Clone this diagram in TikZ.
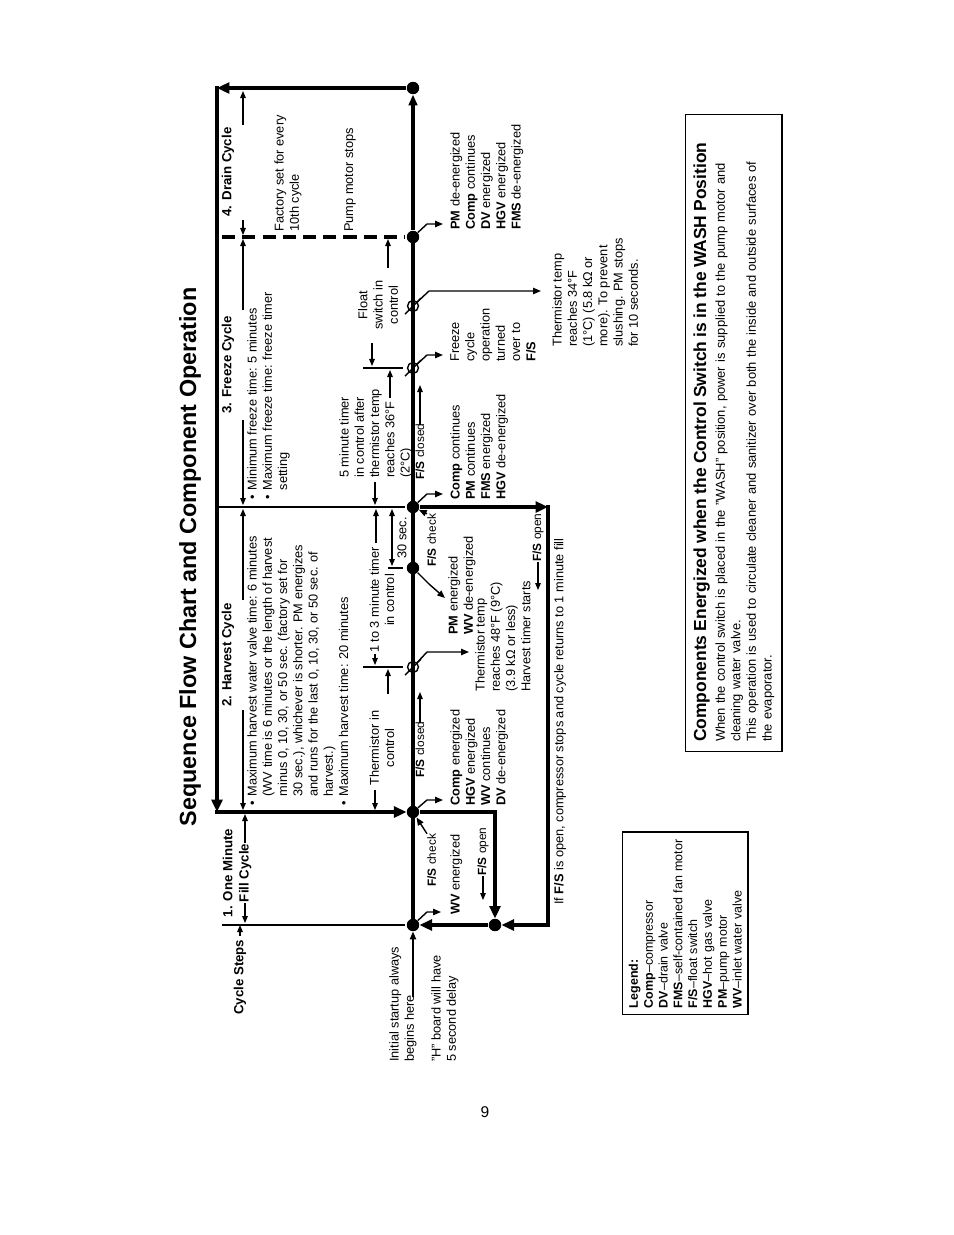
\documentclass[tikz,border=0pt]{standalone}
\usepackage{fontspec}
\setmainfont{Liberation Sans}
\usetikzlibrary{arrows.meta,calc}
\newcommand\bodyfont{\fontsize{8.2}{9.8}\selectfont}
\newcommand\smallfont{\fontsize{7.6}{9.8}\selectfont}
\newcommand\headfont{\fontsize{8.5}{10.4}\selectfont\bfseries}
\newcommand\ttlfont{\fontsize{15}{18}\selectfont\bfseries}
\newcommand\bul{\makebox[6pt][l]{\textbullet}}
\newcommand\indt{\hspace*{6pt}}
\tikzset{
  >={Triangle[length=4.5pt,width=3.6pt]},
  every node/.style={font=\bodyfont, inner sep=0pt},
  % --- texts
  blk/.style  = {rotate=90, align=left, anchor=north west},
  cblk/.style = {rotate=90, align=center},
  hdr/.style  = {rotate=90, font=\headfont, align=center},
  fsl/.style  = {rotate=90, anchor=west, font=\smallfont},
  % --- lines
  spine/.style = {line width=2pt},
  loopl/.style = {line width=2.8pt},
  loopa/.style = {loopl, -{Triangle[length=8pt,width=7pt]}},
  bound/.style = {line width=0.7pt},
  dim/.style   = {line width=0.7pt, ->},
  lbl/.style   = {line width=0.9pt, -{Triangle[length=5pt,width=4pt]}},
  dot/.style   = {circle, fill=black, minimum size=8pt},
  fsw/.style   = {circle, draw, line width=0.9pt, minimum size=7pt},
}
\begin{document}
\begin{tikzpicture}[x=0.642pt, y=-0.642pt]
\useasboundingbox (0,0) rectangle (954,1235);

% time marks
\coordinate (t1) at (0,925);
\coordinate (t2) at (0,812);
\coordinate (t3) at (0,507);
\coordinate (t4) at (0,237);

% title and header row
\node[rotate=90, font=\ttlfont] (ttl) at (190,557) {Sequence Flow Chart and Component Operation};
\node[hdr, anchor=west] (hCS) at (240,1015) {Cycle Steps};
\draw[dim] ([yshift=2pt]hCS.east) -- (hCS.east |- t1);
\node[hdr] (h1) at (237,873) {1. One Minute\\Fill Cycle};
\draw[dim] (245,903) -- (245,923);
\draw[dim] (245,843) -- (245,814);
\node[hdr] (h2) at (228,655) {2. Harvest Cycle};
\draw[dim] (243,710) -- (243,810);
\draw[dim] (243,600) -- (243,509);
\node[hdr] (h3) at (228,365) {3. Freeze Cycle};
\draw[dim] (243,420) -- (243,505);
\draw[dim] (243,310) -- (243,239);
\node[hdr] (h4) at (228,172) {4. Drain Cycle};
\draw[dim] (243,220) -- (243,235);
\draw[dim] (243,125) -- (243,91);

% boundaries
\draw[bound] (222,925) -- (405,925);
\draw[bound] (217,507) -- (405,507);
\draw[line width=2pt, dash pattern=on 8.5pt off 4.5pt] (222,237) -- (405,237);
\draw[bound] (363,667) -- (403,667);
\draw[bound] (388,568) -- (403,568);
\draw[bound] (363,368) -- (403,368);

% cycle notes
\node[blk] (nHv) at (247,806) {\bul Maximum harvest water valve time: 6 minutes\\
\indt(WV time is 6 minutes or the length of harvest\\
\indt minus 0, 10, 30, or 50 sec. (factory set for\\
\indt 30 sec.), whichever is shorter. PM energizes\\
\indt and runs for the last 0, 10, 30, or 50 sec. of\\
\indt harvest.)\\
\bul Maximum harvest time: 20 minutes};
\node[blk] (nFz) at (247,500) {\bul Minimum freeze time: 5 minutes\\
\bul Maximum freeze time: freeze timer\\
\indt setting};
\node[blk] (nDr) at (274,232) {Factory set for every\\10th cycle};
\node[blk] (nPs) at (344,232) {Pump motor stops};

% timing notes
\node[cblk] (dTh) at (382,748) {Thermistor in\\control};
\draw[dim] (375,790) -- (375,810);
\draw[dim] (388,694) -- (388,669);
\node[cblk] (d13) at (382,600) {1 to 3 minute timer\\in control};
\draw[dim] (375,654) -- (375,665);
\draw[dim] (376,543) -- (376,509);
\node[rotate=90] (d30) at (402,538) {30 sec.};
\draw[dim, <->] (392,566) -- (392,509);
\node[blk] (d5) at (339,478) {5 minute timer\\in control after\\thermistor temp\\reaches 36°F\\(2°C)};
\draw[dim] (375,482) -- (375,505);
\draw[dim] (390,398) -- (390,370);
\node[cblk] (dFl) at (378,305) {Float\\switch in\\control};
\draw[dim] (372,343) -- (372,366);
\draw[dim] (388,268) -- (388,239);

% spine
\node[dot] (s0) at (413,925) {};
\node[dot] (s1) at (413,812) {};
\node[dot] (s2) at (413,568) {};
\node[dot] (s3) at (413,507) {};
\node[dot] (s4) at (413,237) {};
\node[dot] (s5) at (413,88) {};
\node[dot] (r0) at (495,925) {};
\coordinate (tl) at (217,88);
\coordinate (bl) at (217,812);
\coordinate (hr) at (548,507);
\draw[spine] (s0.center) -- (s4.center);
\draw[spine, -{Triangle[length=7pt,width=5.5pt]}] (s4) -- (s5);
\node[fsw] (w1) at (413,667) {};
\node[fsw] (w2) at (413,368) {};
\node[fsw] (w3) at (413,306) {};
\foreach \w in {w1,w2,w3}
  \draw[line width=0.9pt] ($(\w)+(-8,8)$) -- ($(\w)+(8,-8)$);

% loops
\draw[loopa] (s5) -- (tl);
\draw[loopa] ($(tl)+(0,-2)$) -- (bl);
\draw[loopa] ($(bl)+(-2,0)$) -- (s1);
\draw[loopa] (s3) -- (hr);
\draw[loopa] ($(hr)+(0,-2)$) |- (r0);
\draw[loopa] (s1) -| (r0);
\draw[loopa] (r0) -- (s0);

% start
\node[blk] (cIS) at (389,1062) {Initial startup always\\begins here};
\draw[lbl] (413,997) -- (s0);
\node[blk] (cHb) at (431,1062) {"H" board will have\\5 second delay};

% fill cycle
\node[blk] (cWV) at (450,915) {\textbf{WV} energized};
\draw[lbl] (s0) -- ++(14,-13) -- ++(14,0);
\node[blk, font=\smallfont] (cF1) at (427,887) {\textbf{F/S} check};
\draw[lbl] (cF1.north east) -- (s1);
\node[fsl] (cO1) at (483,876) {\textbf{F/S} open};
\draw[dim] (cO1.west) -- ++(0,24);

% harvest cycle
\node[fsl] (cC1) at (420,778) {\textbf{F/S} closed};
\draw[dim] ([yshift=-1pt]cC1.east) -- (420,692);
\node[blk] (cH1) at (450,806) {\textbf{Comp} energized\\\textbf{HGV} energized\\\textbf{WV} continues\\\textbf{DV} de-energized};
\draw[lbl] (s1) -- ++(14,-12) -- ++(16,0);
\node[blk] (cTh1) at (475,692) {Thermistor temp\\reaches 48°F (9°C)\\(3.9 kΩ or less)\\Harvest timer starts};
\draw[lbl] (w1) -- ++(14,-15) -- ++(42,0);
\node[blk] (cPM) at (448,635) {\textbf{PM} energized\\\textbf{WV} de-energized};
\draw[lbl] (s2) -- ++(16,16) -- ++(16,14);
\node[blk, font=\smallfont] (cF2) at (427,567) {\textbf{F/S} check};
\draw[lbl] (cF2.north east) -- (s3);
\node[fsl] (cO2) at (538,562) {\textbf{F/S} open};
\draw[dim] (cO2.west) -- ++(0,28);
\node[rotate=90, anchor=west] (cIf) at (560,905) {If \textbf{F/S} is open, compressor stops and cycle returns to 1 minute fill};

% freeze cycle
\node[fsl] (cC2) at (420,480) {\textbf{F/S} closed};
\draw[dim] ([yshift=-1pt]cC2.east) -- (420,385);
\node[blk] (cFr1) at (450,500) {\textbf{Comp} continues\\\textbf{PM} continues\\\textbf{FMS} energized\\\textbf{HGV} de-energized};
\draw[lbl] (s3) -- ++(14,-13) -- ++(16,0);
\node[blk] (cFr2) at (450,362) {Freeze\\cycle\\operation\\turned\\over to\\\textbf{F/S}};
\draw[lbl] (w2) -- ++(14,-13) -- ++(16,0);
\node[blk] (cTh2) at (552,347) {Thermistor temp\\reaches 34°F\\(1°C) (5.8 kΩ or\\more). To prevent\\slushing. PM stops\\for 10 seconds.};
\draw[lbl] (w3) -- ++(16,-15) -- ++(112,0);

% drain cycle
\node[blk] (cDr) at (450,230) {\textbf{PM} de-energized\\\textbf{Comp} continues\\\textbf{DV} energized\\\textbf{HGV} energized\\\textbf{FMS} de-energized};
\draw[lbl] (s4) -- ++(14,-13) -- ++(16,0);

% legend and wash box
\node[blk, draw, line width=0.9pt, inner sep=4pt, text width=109pt,
      font=\fontsize{8}{9.5}\selectfont] (leg) at (622,1015)
  {\textbf{Legend:}\\\textbf{Comp}--compressor\\\textbf{DV}--drain valve\\\textbf{FMS}--self-contained fan motor\\\textbf{F/S}--float switch\\\textbf{HGV}--hot gas valve\\\textbf{PM}--pump motor\\\textbf{WV}--inlet water valve};
\node[blk, draw, line width=0.9pt, inner xsep=6pt, inner ysep=5pt, text width=397pt,
      font=\fontsize{8.3}{10}\selectfont] (wash) at (685,752)
  {{\fontsize{11.2}{13}\selectfont\bfseries Components Energized when the Control Switch is in the WASH Position\par}\vspace{2pt}
   When the control switch is placed in the "WASH" position, power is supplied to the pump motor and\\
   cleaning water valve.\\
   This operation is used to circulate cleaner and sanitizer over both the inside and outside surfaces of\\
   the evaporator.};

\node[font=\fontsize{10}{12}\selectfont] (pg) at (485,1112) {9};
\end{tikzpicture}
\end{document}
